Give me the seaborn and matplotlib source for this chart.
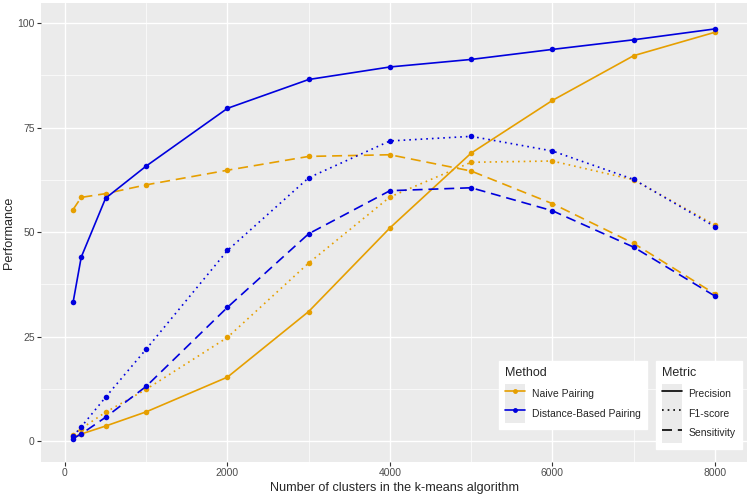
import pandas as pd
import matplotlib.pyplot as plt
import seaborn as sns
from matplotlib.lines import Line2D
from matplotlib.patches import Patch

# data
clusters = [100, 200, 500, 1000, 2000, 3000, 4000, 5000, 6000, 7000, 8000]

naive_precision = [0.9, 1.7, 3.6, 7.0, 15.3, 31.0, 51.0, 68.9, 81.5, 92.2, 97.8]
naive_f1 = [1.5, 3.0, 6.9, 12.4, 24.8, 42.6, 58.4, 66.7, 67.0, 62.5, 51.7]
naive_sensitivity = [55.4, 58.3, 59.2, 61.3, 64.8, 68.1, 68.5, 64.6, 56.8, 47.3, 35.2]

dist_precision = [33.2, 44.0, 58.1, 65.8, 79.6, 86.5, 89.5, 91.3, 93.7, 96.0, 98.6]
dist_f1 = [1.2, 3.4, 10.5, 22.0, 45.6, 63.0, 71.8, 72.9, 69.4, 62.6, 51.3]
dist_sensitivity = [0.6, 1.7, 5.7, 13.1, 32.0, 49.6, 59.9, 60.6, 55.1, 46.4, 34.7]

methods = ["Naive Pairing", "Distance-Based Pairing"]
metrics = ["Precision", "F1-score", "Sensitivity"]

rows = []
for method, series in zip(methods, [[naive_precision, naive_f1, naive_sensitivity],
                                    [dist_precision, dist_f1, dist_sensitivity]]):
    for metric, vals in zip(metrics, series):
        for x, y in zip(clusters, vals):
            rows.append({"Method": method, "Metric": metric, "Clusters": x, "Performance": y})
df = pd.DataFrame(rows)

colors = {"Naive Pairing": "#E69F00", "Distance-Based Pairing": "#0000DD"}
dot = (1, 2.4)
dash = (6, 3.5)
dashes = {"Precision": "", "F1-score": dot, "Sensitivity": dash}
lw = 1.2

sns.set_theme(style="darkgrid")
plt.rcParams['font.family'] = ['Liberation Sans', 'DejaVu Sans']
plt.rcParams['axes.facecolor'] = '#EBEBEB'

fig = plt.figure(figsize=(7.5, 4.96), dpi=100)
ax = fig.add_axes([41 / 750, 1 - 462 / 496, 706 / 750, 459 / 496])

sns.lineplot(data=df, x="Clusters", y="Performance", hue="Method", style="Metric",
             palette=colors, dashes=dashes, markers={"Precision": "o", "F1-score": "o", "Sensitivity": "o"},
             markersize=4, markeredgewidth=0, linewidth=lw, legend=False, ax=ax)

ax.set_xlim(-295, 8395)
ax.set_ylim(-5, 104.8)
ax.set_xticks([0, 2000, 4000, 6000, 8000])
ax.set_yticks([0, 25, 50, 75, 100])
ax.set_xticks([1000, 3000, 5000, 7000], minor=True)
ax.set_yticks([12.5, 37.5, 62.5, 87.5], minor=True)
ax.grid(which="major", color="white", linewidth=1.0)
ax.grid(which="minor", color="white", linewidth=0.5)
for s in ax.spines.values():
    s.set_visible(False)
ax.tick_params(which="major", length=2.75, width=0.8, color="#333333", labelsize=7.5,
               labelcolor="#4D4D4D", pad=1.8, left=True, bottom=True)
ax.tick_params(which="minor", length=0)
ax.set_xlabel("Number of clusters in the k-means algorithm", fontsize=9.1, labelpad=2.5)
ax.set_ylabel("Performance", fontsize=9.1, labelpad=2)

key_bg = Patch(facecolor="#EBEBEB", edgecolor="none")
leg_kw = dict(loc="upper left", frameon=True, fancybox=False, framealpha=1, edgecolor="white",
              facecolor="white", fontsize=7.5, title_fontsize=9.0, handlelength=1.92,
              handleheight=2.5, borderpad=0.6, labelspacing=0.0, handletextpad=0.62,
              borderaxespad=0)

# two separate legends like ggplot
method_handles = [(key_bg, Line2D([0], [0], color=colors[m], marker="o", markersize=3.5,
                                  markeredgewidth=0, linewidth=lw)) for m in methods]
leg1 = fig.legend(method_handles, methods, title="Method",
                  bbox_to_anchor=(499 / 750, 1 - 361 / 496), **leg_kw)
leg1._legend_box.align = "left"
leg1._legend_box.sep = 3.5

metric_handles = [(key_bg, Line2D([0], [0], color="black", linewidth=lw, linestyle="-")),
                  (key_bg, Line2D([0], [0], color="black", linewidth=lw, linestyle=(0, dot))),
                  (key_bg, Line2D([0], [0], color="black", linewidth=lw, linestyle=(0, dash)))]
leg2 = fig.legend(metric_handles, metrics, title="Metric",
                  bbox_to_anchor=(655.5 / 750, 1 - 361 / 496), **leg_kw)
leg2._legend_box.align = "left"
leg2._legend_box.sep = 3.5

fig.savefig("out.png", dpi=100)
